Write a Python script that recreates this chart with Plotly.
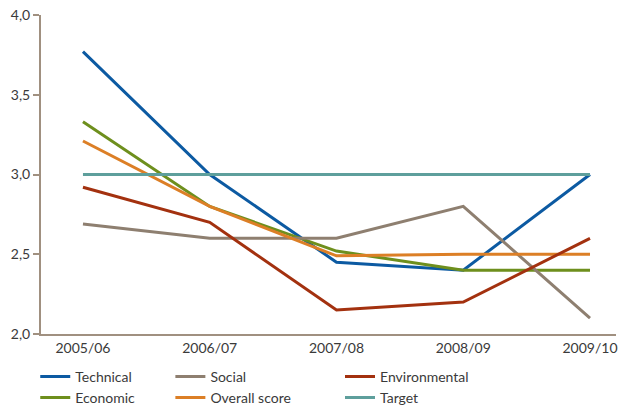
import plotly.graph_objects as go

years = ["2005/06", "2006/07", "2007/08", "2008/09", "2009/10"]
technical = [3.77, 3.0, 2.45, 2.40, 3.0]
social = [2.69, 2.6, 2.6, 2.8, 2.1]
environmental = [2.92, 2.7, 2.15, 2.2, 2.6]
economic = [3.33, 2.8, 2.52, 2.4, 2.4]
overall = [3.21, 2.8, 2.49, 2.5, 2.5]
target = [3.0, 3.0, 3.0, 3.0, 3.0]

y_ticks = [2.0, 2.5, 3.0, 3.5, 4.0]

series = [
    ("Technical", technical, "#0c5aa2", "legend"),
    ("Economic", economic, "#6e8f1d", "legend"),
    ("Social", social, "#8e7f70", "legend2"),
    ("Overall score", overall, "#dc7f26", "legend2"),
    ("Environmental", environmental, "#a3310f", "legend3"),
    ("Target", target, "#5e9f9c", "legend3"),
]

fig = go.Figure()
for name, vals, color, lg in series:
    fig.add_trace(go.Scatter(
        x=years, y=vals, name=name, mode="lines",
        line=dict(color=color, width=3),
        legend=lg,
    ))

font_family = "Lato, 'Open Sans', sans-serif"
axis_color = "#a09080"
text_color = "#3a3a3a"
legend_common = dict(
    orientation="v", xanchor="left", yanchor="top", y=-0.084,
    font=dict(family=font_family, size=14, color=text_color),
    bgcolor="rgba(0,0,0,0)", tracegroupgap=0, itemwidth=30,
)

fig.update_layout(
    width=628, height=405,
    margin=dict(l=41, r=12, t=15, b=71, autoexpand=False),
    paper_bgcolor="white", plot_bgcolor="white",
    separators=",.",
    font=dict(family=font_family, size=14, color=text_color),
    showlegend=True,
    legend=dict(x=-0.01, **legend_common),
    legend2=dict(x=0.225, **legend_common),
    legend3=dict(x=0.52, **legend_common),
    xaxis=dict(
        type="category", range=[-0.331, 4.205],
        showline=True, linecolor=axis_color, linewidth=2,
        showgrid=False, zeroline=False, ticks="",
        tickfont=dict(family=font_family, size=14, color=text_color),
    ),
    yaxis=dict(
        range=[2.0, 4.0], tickvals=y_ticks, tickformat=".1f",
        showline=True, linecolor=axis_color, linewidth=2,
        showgrid=False, zeroline=False,
        ticks="outside", ticklen=6, tickcolor=axis_color, tickwidth=2,
        tickfont=dict(family=font_family, size=14, color=text_color),
    ),
)

fig.write_html("out.html")
